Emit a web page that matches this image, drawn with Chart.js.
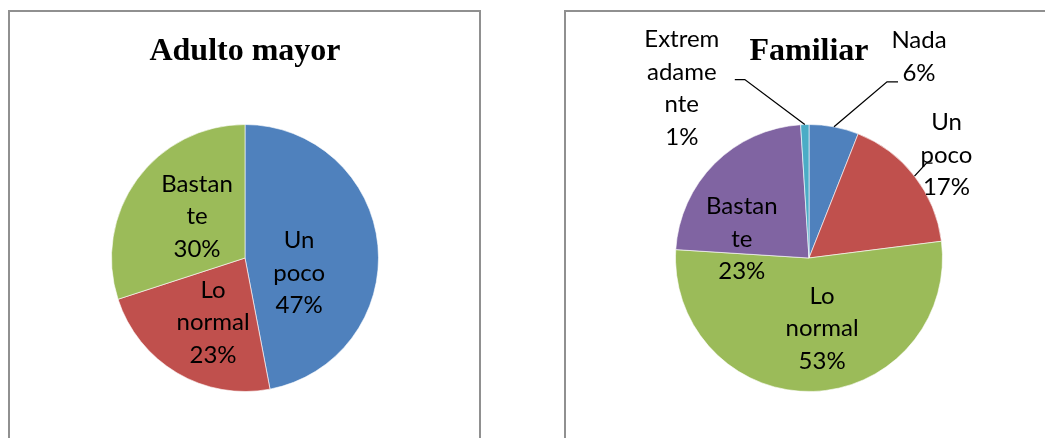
<!DOCTYPE html>
<html>
<head>
<meta charset="utf-8">
<script src="https://cdn.jsdelivr.net/npm/chart.js@4/dist/chart.umd.min.js"></script>
<style>
  html, body { margin: 0; padding: 0; background: #fff; overflow: hidden; }
  .box { position: absolute; top: 10px; border: 2px solid #909090; box-sizing: border-box; }
  canvas { position: absolute; }
</style>
</head>
<body>
<div class="box" style="left:8px; width:473px; height:440px;"></div>
<div class="box" style="left:564px; width:490px; height:440px;"></div>
<canvas id="adulto" width="469" height="426" style="left:10px; top:12px;"></canvas>
<canvas id="familiar" width="479" height="426" style="left:566px; top:12px;"></canvas>
<script>
// Adulto mayor
const adultoLabels = [['Un', 'poco'], ['Lo', 'normal'], ['Bastan', 'te']];
const adultoValues = [47, 23, 30];
const adultoColors = ['#4F81BD', '#C0504D', '#9BBB59'];

// Familiar
const familiarLabels = [['Nada'], ['Un', 'poco'], ['Lo', 'normal'], ['Bastan', 'te'], ['Extrem', 'adame', 'nte']];
const familiarValues = [6, 17, 53, 23, 1];
const familiarColors = ['#4F81BD', '#C0504D', '#9BBB59', '#8064A2', '#4BACC6'];

// draws the multi-line data labels (name + percent) and the leader lines
const pieLabels = {
    id: 'pieLabels',
    afterDatasetsDraw(chart, args, opts) {
        const ctx = chart.ctx;
        const meta = chart.getDatasetMeta(0);
        const values = chart.data.datasets[0].data;
        const total = values.reduce((a, b) => a + b, 0);
        ctx.save();
        ctx.font = '24px Lato';
        ctx.fillStyle = '#000';
        ctx.strokeStyle = '#000';
        ctx.lineWidth = 1.3;
        ctx.textAlign = 'center';
        ctx.textBaseline = 'middle';
        meta.data.forEach((arc, i) => {
            const p = opts.place[i];
            const a = arc.getProps(['x', 'y', 'startAngle', 'endAngle', 'outerRadius'], true);
            const mid = (a.startAngle + a.endAngle) / 2;
            let cx, cy;
            if (p.line) {
                // outside label: start at the slice edge
                const ex = a.x + Math.cos(mid) * a.outerRadius;
                const ey = a.y + Math.sin(mid) * a.outerRadius;
                ctx.beginPath();
                ctx.moveTo(ex, ey);
                p.line.forEach(pt => ctx.lineTo(ex + pt[0], ey + pt[1]));
                ctx.stroke();
                cx = ex + p.dx;
                cy = ey + p.dy;
            } else {
                cx = a.x + Math.cos(mid) * a.outerRadius * p.f + p.dx;
                cy = a.y + Math.sin(mid) * a.outerRadius * p.f + p.dy;
            }
            const lines = chart.data.labels[i].concat([Math.round(values[i] / total * 100) + '%']);
            const lh = 32.5;
            lines.forEach((t, k) => {
                ctx.fillText(t, cx, cy + (k - (lines.length - 1) / 2) * lh);
            });
        });
        ctx.restore();
    }
};

function makePie(id, title, labels, values, colors, padding, place) {
    return new Chart(document.getElementById(id), {
        type: 'pie',
        data: {
            labels: labels,
            datasets: [{
                data: values,
                backgroundColor: colors,
                borderColor: 'rgba(255,255,255,0.6)',
                borderWidth: 1
            }]
        },
        options: {
            responsive: false,
            animation: false,
            layout: { padding: padding },
            plugins: {
                legend: { display: false },
                tooltip: { enabled: false },
                title: {
                    display: true,
                    text: title,
                    color: '#000',
                    font: { family: 'Liberation Serif', size: 32, weight: 'bold', lineHeight: 1.2 },
                    padding: { top: 21, bottom: 52.6 }
                },
                pieLabels: { place: place }
            }
        },
        plugins: [pieLabels]
    });
}

makePie('adulto', 'Adulto mayor', adultoLabels, adultoValues, adultoColors,
    { left: 101, right: 100, top: 0, bottom: 46 },
    [
        { f: 0.4, dx: 1, dy: 20 },
        { f: 0.5, dx: 2, dy: 7 },
        { f: 0.5, dx: 6, dy: -2 }
    ]);

makePie('familiar', 'Familiar', familiarLabels, familiarValues, familiarColors,
    { left: 109, right: 102, top: 0, bottom: 46 },
    [
        { line: [[53, -45], [64, -45]], dx: 85, dy: -70 },
        { line: [[12, -13], [18, -13]], dx: 32, dy: -21 },
        { f: 0.5, dx: 11, dy: 4 },
        { f: 0.5, dx: -20, dy: 28 },
        { line: [[-60, -45], [-70, -45]], dx: -123, dy: -36.5 }
    ]);
</script>
</body>
</html>
